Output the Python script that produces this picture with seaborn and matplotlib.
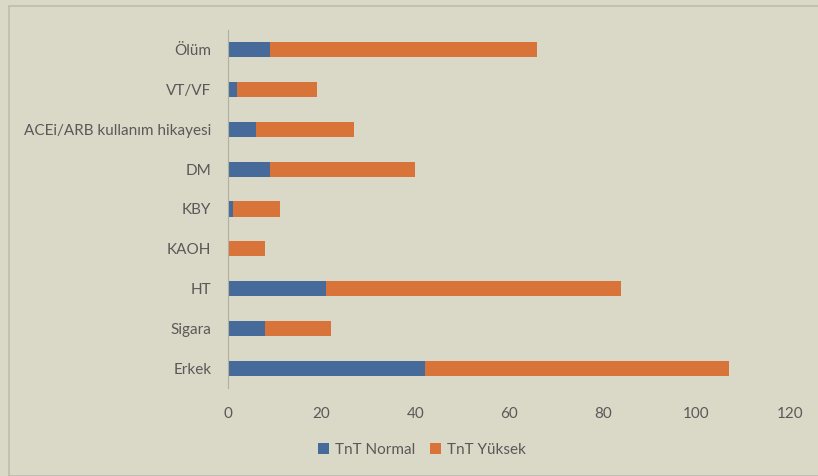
import matplotlib
matplotlib.use("Agg")
import matplotlib.pyplot as plt
import pandas as pd
import seaborn as sns
from matplotlib.patches import Rectangle

# categories top to bottom, as in the picture
categories = ["Ölüm", "VT/VF", "ACEi/ARB kullanım hikayesi", "DM", "KBY",
              "KAOH", "HT", "Sigara", "Erkek"]
tnt_normal = [9, 2, 6, 9, 1, 0, 21, 8, 42]
tnt_yuksek = [57, 17, 21, 31, 10, 8, 63, 14, 65]
x_ticks = [0, 20, 40, 60, 80, 100, 120]

df = pd.DataFrame({"kategori": categories,
                   "TnT Normal": tnt_normal,
                   "TnT Yüksek": tnt_yuksek})
df["toplam"] = df["TnT Normal"] + df["TnT Yüksek"]

bg = "#DAD9C7"
blue = "#466A9A"
orange = "#D8733A"
txt = "#595959"

sns.set_theme(style="white")
plt.rcParams["font.family"] = ["Lato", "DejaVu Sans"]

fig = plt.figure(figsize=(8.18, 4.76), dpi=100, facecolor=bg)
ax = fig.add_axes([228 / 818, 1 - 388 / 476, (790 - 228) / 818, (388 - 30) / 476])
ax.set_facecolor(bg)

# stacked: draw totals first (orange), normal on top (blue)
sns.barplot(data=df, y="kategori", x="toplam", color=orange, width=0.38,
            orient="h", ax=ax, label="TnT Yüksek", saturation=1, linewidth=0)
sns.barplot(data=df, y="kategori", x="TnT Normal", color=blue, width=0.38,
            orient="h", ax=ax, label="TnT Normal", saturation=1, linewidth=0)

ax.set_xlim(0, 120)
ax.set_xticks(x_ticks)
ax.set_xlabel("")
ax.set_ylabel("")
for s in ["top", "right", "bottom"]:
    ax.spines[s].set_visible(False)
ax.spines["left"].set_color("#B0AFA0")
ax.spines["left"].set_linewidth(0.8)
ax.tick_params(axis="both", length=0, labelsize=11, colors=txt)
ax.tick_params(axis="x", pad=14)
ax.tick_params(axis="y", pad=12)

handles, labels = ax.get_legend_handles_labels()
order = [labels.index("TnT Normal"), labels.index("TnT Yüksek")]
leg = fig.legend([handles[i] for i in order], [labels[i] for i in order],
                 loc="center", bbox_to_anchor=(422 / 818, 1 - 450 / 476),
                 ncol=2, frameon=False, fontsize=11, handlelength=0.7,
                 handleheight=0.7, columnspacing=1.0, handletextpad=0.4)
for t in leg.get_texts():
    t.set_color(txt)
if ax.get_legend() is not None:
    ax.get_legend().remove()

# outer chart frame
fig.patches.append(Rectangle((9 / 818, 0), 1.0, 1 - 6 / 476, transform=fig.transFigure,
                             fill=False, edgecolor="#BDBCAE", linewidth=1.2))

fig.savefig("out.png", dpi=100, facecolor=bg)
